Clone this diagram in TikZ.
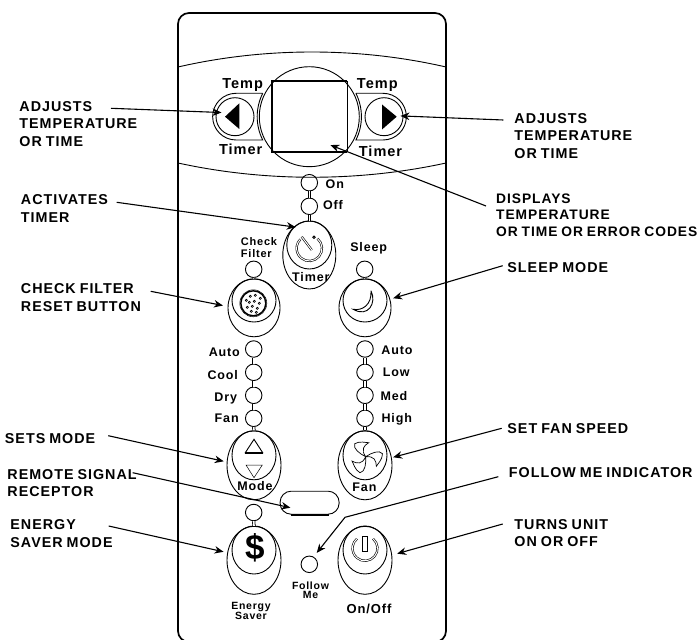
\documentclass[tikz,border=0pt]{standalone}
\usepackage{fontspec}
\setmainfont{Liberation Sans}[LetterSpace=7,WordSpace=0.8]
\usetikzlibrary{positioning,shapes,arrows.meta,calc}
\tikzset{
    lbl/.style={anchor=north west, align=left, inner sep=0pt, font=\fontsize{14.3}{17.5}\selectfont\bfseries},
    keytext/.style={anchor=base, inner sep=0pt, font=\fontsize{14.5}{15}\selectfont\bfseries},
    ledtext/.style={anchor=base, inner sep=0pt, font=\fontsize{12.5}{13}\selectfont\bfseries},
    smalltext/.style={anchor=north, align=center, inner sep=0pt, font=\fontsize{10.5}{9.4}\selectfont\bfseries},
    led/.style={circle, draw, inner sep=0pt, minimum size=16.5pt, line width=0.9pt},
    btnouter/.style={ellipse, draw, inner sep=0pt, minimum width=54pt, minimum height=69pt, line width=0.9pt},
    btninner/.style={ellipse, draw, inner sep=0pt, minimum width=44pt, minimum height=49pt, line width=0.9pt},
    ledlink/.style={double, double distance=1.6pt, line width=0.8pt},
    ringline/.style={double, double distance=1pt, line width=0.6pt},
    arrow/.style={-{Stealth[length=9pt,width=7.5pt]}, line width=1.1pt},
    heavy/.style={line width=1.7pt}
}
\begin{document}
\begin{tikzpicture}[x=1pt,y=-1pt,line width=0.9pt]
\useasboundingbox (0,0) rectangle (700,639);
% panel
\draw[heavy, rounded corners=11pt] (190,642) -- (178,642) -- (178,13) -- (446,13) -- (446,642) -- (434,642);
\draw (178,67) .. controls (265,47) and (359,47) .. (446,67);
\draw (178,163) .. controls (265,182) and (359,182) .. (446,163);
% display
\node[circle, draw, inner sep=0pt, minimum size=100pt] (ring) at (309.3,116.7) {};
\node[rectangle, inner sep=0pt, minimum width=74pt, minimum height=70pt] (display) at (309.7,116.7) {};
\draw[heavy] (display.north east) -- (display.north west) -- (display.south west) -- (display.south east);
\draw (display.north east) -- (display.south east);
% temp buttons
\node[circle, draw, inner sep=0pt, minimum size=38pt] (tempL) at (235,116.7) {};
\node[circle, draw, inner sep=0pt, minimum size=38pt] (tempR) at (384,116.7) {};
\draw (262.7,93.3) -- (236,93.3) arc[start angle=-90, end angle=-270, radius=23.35] -- (262.7,140) arc[start angle=153.4, end angle=206.6, radius=52.1];
\draw (355.9,93.3) -- (383,93.3) arc[start angle=-90, end angle=90, radius=23.35] -- (355.9,140) arc[start angle=26.6, end angle=-26.6, radius=52.1];
\fill (225,116.7) -- (239.3,103.3) -- (239.3,129) -- cycle;
\fill (382,104.5) -- (382,129.5) -- (396.7,116.7) -- cycle;
\node[keytext] (tempLtxt) at (242.7,88.3) {Temp};
\node[keytext] (timerLtxt) at (240.7,154.3) {Timer};
\node[keytext] (tempRtxt) at (377.3,88.3) {Temp};
\node[keytext] (timerRtxt) at (380.5,156.7) {Timer};
% timer
\node[led] (onLed) at (309.3,182.7) {};
\node[led] (offLed) at (309.3,206.3) {};
\node[ledtext] (onTxt) at (334.8,188.7) {On};
\node[ledtext] (offTxt) at (333,209.3) {Off};
\node[btnouter, minimum width=53pt, minimum height=68pt] (timerOut) at (309.3,255) {};
\node[btninner, minimum width=45pt, minimum height=48pt] (timerIn) at (309.3,245) {};
\draw[ledlink] (onLed.south) -- (offLed.north);
\draw[ledlink] (offLed.south) -- (timerOut.north);
\draw[ringline] (309.3,248.3) ++(-50:12.7) arc[start angle=-50, end angle=225, radius=12.7];
\draw[ringline] (301.7,236.7) -- (311.7,250);
\draw (314,237.3) circle[radius=1.2];
\node[ledtext] (timerTxt) at (310.8,281) {Timer};
% check filter
\node[smalltext, font=\fontsize{11}{11.6}\selectfont\bfseries, align=left] (chkTxt) at (259,237.5) {Check\\Filter};
\node[led] (chkLed) at (253.7,269.3) {};
\node[btnouter, minimum width=52pt, minimum height=58pt] (chkOut) at (254,307.8) {};
\node[btninner, minimum width=44pt, minimum height=43pt] (chkIn) at (254,300.5) {};
\draw[ledlink] (chkLed.south) -- (chkOut.north);
\node[circle, draw, line width=1.4pt, inner sep=0pt, minimum size=25pt] (chkDisc) at (253.3,303.3) {};
\draw[line width=0.5pt] (253.3,303.3) circle[radius=13.5];
\foreach \dx/\dy in {-7/-3,-3/-7,2/-8,7/-5,-4/-1,1/-2,6/0,-6/4,-1/3,4/5,-2/8,3/9}
    \draw[line width=0.6pt] ($(chkDisc.center)+(\dx,\dy)$) circle[radius=1.1];
% sleep
\node[ledtext] (sleepTxt) at (368.7,251) {Sleep};
\node[led] (sleepLed) at (364.7,269.3) {};
\node[btnouter, minimum width=52pt, minimum height=58pt] (sleepOut) at (365,307.8) {};
\node[btninner, minimum width=44pt, minimum height=43pt] (sleepIn) at (365,300.5) {};
\draw[ledlink] (sleepLed.south) -- (sleepOut.north);
\draw (371,290.7) .. controls (377,303) and (368,318) .. (353.3,309.3) .. controls (362,311) and (372,305) .. (371,290.7);
% left leds
\node[led] (autoLed) at (253.7,349) {};
\node[led] (coolLed) at (253.7,372.3) {};
\node[led] (dryLed) at (253.7,395.3) {};
\node[led] (fanLed) at (253.7,418.3) {};
\draw[ledlink] (autoLed.south) -- (coolLed.north);
\draw[ledlink] (coolLed.south) -- (dryLed.north);
\draw[ledlink] (dryLed.south) -- (fanLed.north);
\node[ledtext] (autoTxt) at (224.3,356) {Auto};
\node[ledtext] (coolTxt) at (222.7,379) {Cool};
\node[ledtext] (dryTxt) at (225.7,401) {Dry};
\node[ledtext] (fanTxt) at (226.7,422) {Fan};
% right leds
\node[led] (autoLedR) at (365,349) {};
\node[led] (lowLed) at (365,372.3) {};
\node[led] (medLed) at (365,395.3) {};
\node[led] (highLed) at (365,418.3) {};
\draw[ledlink] (autoLedR.south) -- (lowLed.north);
\draw[ledlink] (lowLed.south) -- (medLed.north);
\draw[ledlink] (medLed.south) -- (highLed.north);
\node[ledtext] (autoTxtR) at (397,354.3) {Auto};
\node[ledtext] (lowTxt) at (396.3,376) {Low};
\node[ledtext] (medTxt) at (394,400.7) {Med};
\node[ledtext] (highTxt) at (396.7,422) {High};
% mode
\node[btnouter] (modeOut) at (254,465.3) {};
\node[btninner] (modeIn) at (254,455.3) {};
\draw[ledlink] (fanLed.south) -- (modeOut.north);
\draw (254,439.3) -- (245.3,452.7) -- (262.7,452.7) -- cycle;
\draw[heavy] (245.3,452.7) -- (262.7,452.7);
\draw[line width=0.5pt] (246,465) -- (262.3,465) -- (254,477.7) -- cycle;
\node[ledtext] (modeTxt) at (255,490.7) {Mode};
% fan
\node[btnouter] (fanOut) at (365,465.3) {};
\node[btninner] (fanIn) at (365,455.3) {};
\draw[ledlink] (highLed.south) -- (fanOut.north);
\foreach \a in {0,120,240}
    \draw[shift={(365.7,456.7)},rotate=\a,line width=0.7pt] (0,0) .. controls (-6,-3) and (-13,-8) .. (-11,-13) .. controls (-6,-16) and (0,-14) .. (3,-14) .. controls (-2,-11) and (-5,-7) .. (0,0);
\node[ledtext] (fanBtnTxt) at (364.4,491.7) {Fan};
% receptor
\node[rectangle, draw, rounded corners=11pt, inner sep=0pt, minimum width=59pt, minimum height=23pt] (receptor) at (309.6,502.7) {};
\draw[heavy] ($(receptor.south west)+(11,0)$) -- ($(receptor.south east)+(-11,0)$);
% energy saver
\node[led] (saverLed) at (253.7,512.5) {};
\node[btnouter, minimum height=68pt] (saverOut) at (254,560.3) {};
\node[btninner, minimum height=48pt] (saverIn) at (254,550) {};
\draw[ledlink] (saverLed.south) -- (saverOut.north);
\node[inner sep=0pt, font=\fontsize{35}{35}\selectfont\bfseries] (dollar) at (255,548.3) {\$};
\node[smalltext] (saverTxt) at (251,601.5) {Energy\\Saver};
% follow me
\node[led] (followLed) at (309.3,564.3) {};
\node[smalltext] (followTxt) at (310.5,581.5) {Follow\\Me};
% on off
\node[btnouter, minimum height=68pt] (powerOut) at (365,560.3) {};
\node[btninner, minimum height=48pt] (powerIn) at (365,550) {};
\draw[ringline] (365,548.3) ++(-50:12.5) arc[start angle=-50, end angle=230, radius=12.5];
\node[rectangle, draw, fill=white, inner sep=0pt, minimum width=5pt, minimum height=15pt] (powerBar) at (365.3,544.2) {};
\node[keytext, font=\fontsize{13}{14}\selectfont\bfseries] (powerTxt) at (369,613.3) {On/Off};
% labels
\node[lbl] (adjLlbl) at (19,101) {ADJUSTS\\TEMPERATURE\\OR TIME};
\node[lbl] (actLbl) at (20.5,194.5) {ACTIVATES\\TIMER};
\node[lbl] (chkLbl) at (20.5,283.5) {CHECK FILTER\\RESET BUTTON};
\node[lbl] (modeLbl) at (4.5,433.5) {SETS MODE};
\node[lbl] (remLbl) at (7,468.8) {REMOTE SIGNAL\\RECEPTOR};
\node[lbl] (saverLbl) at (10,519.5) {ENERGY\\SAVER MODE};
\node[lbl] (adjRlbl) at (514,112.8) {ADJUSTS\\TEMPERATURE\\OR TIME};
\node[lbl, font=\fontsize{13.8}{16.5}\selectfont\bfseries] (dispLbl) at (495.7,193.2) {DISPLAYS\\TEMPERATURE\\OR TIME OR ERROR CODES};
\node[lbl] (sleepLbl) at (507,262.2) {SLEEP MODE};
\node[lbl] (fanLbl) at (507,422.8) {SET FAN SPEED};
\node[lbl] (followLbl) at (508.5,467.2) {FOLLOW ME INDICATOR};
\node[lbl] (turnLbl) at (514,518.8) {TURNS UNIT\\ON OR OFF};
% connectors
\coordinate (adjLtail) at (111,108.3);
\coordinate (actTail) at (116.7,202.3);
\coordinate (chkTail) at (150.7,291.3);
\coordinate (modeTail) at (108.3,435.7);
\coordinate (remTail) at (132.7,472.7);
\coordinate (saverTail) at (108.7,526);
\coordinate (adjRtail) at (503.3,120);
\coordinate (dispTail) at (486,206);
\coordinate (sleepTail) at (502.7,265.7);
\coordinate (fanTail) at (501.7,428.3);
\coordinate (followTail) at (498.3,476.7);
\coordinate (followBend) at (345,517.3);
\coordinate (turnTail) at (502.7,524);
\draw[arrow, shorten >=-5.5pt] (adjLtail) -- (tempL.167);
\draw[arrow, shorten >=-3pt] (adjRtail) -- (tempR.2);
\draw[arrow, shorten >=-18pt] (dispTail) -- (display.317.5);
\draw[arrow, shorten >=-2pt] (actTail) -- (timerOut.119);
\draw[arrow, shorten >=4.7pt] (chkTail) -- (chkOut.177);
\draw[arrow, shorten >=3pt] (sleepTail) -- (sleepOut.19);
\draw[arrow, shorten >=3pt] (modeTail) -- (modeOut.173);
\draw[arrow, shorten >=1.4pt] (fanTail) -- (fanOut.16);
\draw[arrow, shorten >=-11pt] (remTail) -- (receptor.185.2);
\draw[arrow, shorten >=4.9pt] (followTail) -- (followBend) -- (followLed.60);
\draw[arrow, shorten >=3.8pt] (saverTail) -- (saverOut.164);
\draw[arrow, shorten >=5.2pt] (turnTail) -- (powerOut.11);
\end{tikzpicture}
\end{document}
